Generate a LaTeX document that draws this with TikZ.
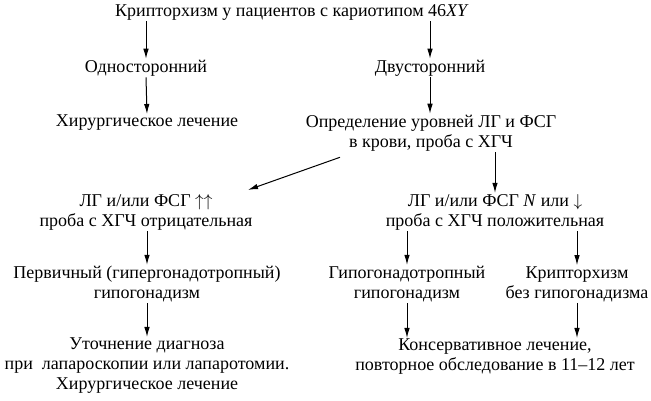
\documentclass[tikz,border=0pt]{standalone}
\usepackage{fontspec}
\setmainfont{Liberation Serif}
\usetikzlibrary{arrows.meta}

\begin{document}
\begin{tikzpicture}[x=1pt,y=-1pt,
  txt/.style={align=center,inner sep=1pt,font=\fontsize{18}{20}\selectfont},
  arr/.style={line width=1pt,-{Latex[length=10pt,width=5.5pt]}}]
\useasboundingbox (0,0) rectangle (651,400);

\node[txt] (top) at (292,12) {Крипторхизм у пациентов с кариотипом 46\textit{XY}};
\node[txt] (uni) at (146,68) {Односторонний};
\node[txt] (bi) at (430,68) {Двусторонний};
\node[txt] (surg) at (147,123) {Хирургическое лечение};
\node[txt] (test) at (431,133) {Определение уровней ЛГ и ФСГ\\в крови, проба с ХГЧ};
\node[txt] (high) at (146,212) {ЛГ и/или ФСГ $\uparrow\uparrow$\\проба с ХГЧ отрицательная};
\node[txt] (low) at (495,212) {ЛГ и/или ФСГ \textit{N} или $\downarrow$\\проба с ХГЧ положительная};
\node[txt] (prim) at (147,284) {Первичный (гипергонадотропный)\\гипогонадизм};
\node[txt] (hypo) at (407,284) {Гипогонадотропный\\гипогонадизм};
\node[txt] (crypt) at (577,284) {Крипторхизм\\без гипогонадизма};
\node[txt] (clar) at (147,366) {Уточнение диагноза\\при\ \ лапароскопии или лапаротомии.\\Хирургическое лечение};
\node[txt] (cons) at (495,357) {Консервативное лечение,\\повторное обследование в 11–12 лет};

\draw[arr] (top.south -| uni.north) -- (uni.north);
\draw[arr] (top.south -| bi.north) -- (bi.north);
\draw[arr] (uni.south) -- (surg.north);
\draw[arr] (bi.south) -- (test.north -| bi.south);
\draw[arr] ([xshift=-91pt,yshift=-5pt]test.south) -- ([xshift=102pt,yshift=3pt]high.north);
\draw[arr] (test.south -| low.north) -- (low.north);
\draw[arr] (high.south -| prim.north) -- (prim.north);
\draw[arr] (low.south -| hypo.north) -- (hypo.north);
\draw[arr] (low.south -| crypt.north) -- (crypt.north);
\draw[arr] (prim.south) -- (clar.north -| prim.south);
\draw[arr] (hypo.south) -- (cons.north -| hypo.south);
\draw[arr] (crypt.south) -- (cons.north -| crypt.south);

\end{tikzpicture}
\end{document}
